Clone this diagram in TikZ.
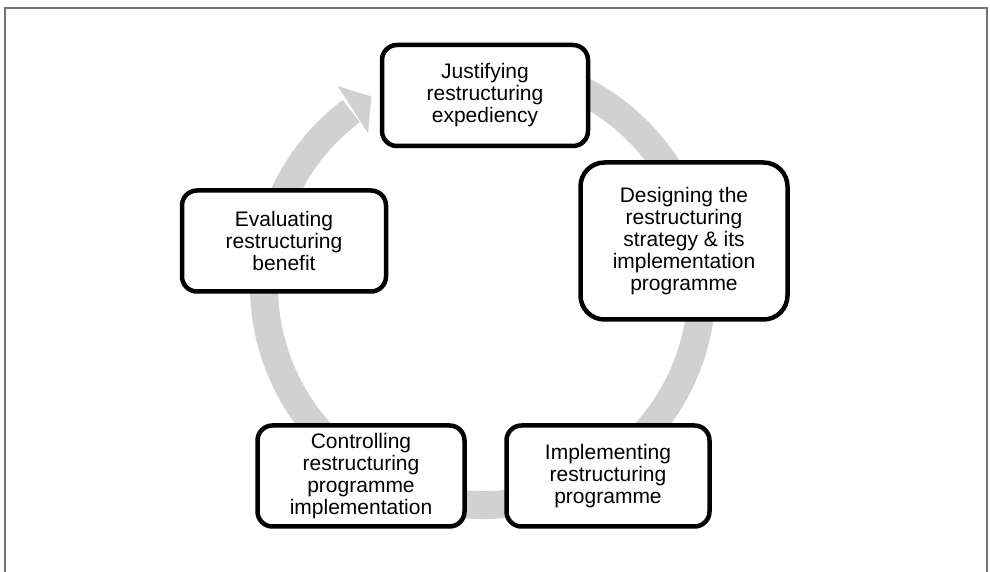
\documentclass[tikz,border=0pt]{standalone}
\usepackage{fontspec}
\setmainfont{Liberation Sans}
\usetikzlibrary{calc}
\newcommand\boxLineWidth{4.5pt}
\newcommand\boxColor{black}
\newcommand\ringColor{black!18}
\newcommand\ringRadius{219}
\newcommand\ringWidth{28pt}
\newcommand\frameColor{black!55}
\newcommand\frameLineWidth{1.5pt}

\tikzset{
    phaseBox/.style={draw=\boxColor, line width=\boxLineWidth, fill=white, shape=rectangle,
        rounded corners=15pt, align=center, inner sep=0pt, anchor=center,
        font=\fontsize{21}{22}\selectfont},
}

\begin{document}
\begin{tikzpicture}[x=1pt, y=1pt]

    \useasboundingbox (0,0) rectangle (990,572);
    % outer frame, open at the bottom
    \draw [draw=\frameColor, line width=\frameLineWidth] (5,-5) -- (5,564) -- (987,564) -- (987,-5);

    % the grey cycle arrow behind the boxes
    \coordinate (Cycle_Center) at (483,286);
    \draw [draw=\ringColor, line width=\ringWidth] (Cycle_Center) ++(75:\ringRadius) arc [start angle=75, end angle=-233, radius=\ringRadius];
    \fill [\ringColor] ($(Cycle_Center)+(127:191)$) -- ($(Cycle_Center)+(126:247)$) -- ($(Cycle_Center)+(120.5:220)$) -- cycle;

    % the five phases
    \node [phaseBox, minimum width=206pt, minimum height=101pt] (Cycle_Box_Justify) at (485,476.5) {Justifying\\restructuring\\expediency};
    \node [phaseBox, minimum width=207pt, minimum height=157pt, rounded corners=24pt] (Cycle_Box_Design) at (684,331) {Designing the\\restructuring\\strategy \& its\\implementation\\programme};
    \node [phaseBox, minimum width=203pt, minimum height=101pt] (Cycle_Box_Implement) at (608,96) {Implementing\\restructuring\\programme};
    \node [phaseBox, minimum width=207pt, minimum height=101pt] (Cycle_Box_Control) at (361,96) {Controlling\\restructuring\\programme\\implementation};
    \node [phaseBox, minimum width=204pt, minimum height=101pt] (Cycle_Box_Evaluate) at (284,331) {Evaluating\\restructuring\\benefit};

\end{tikzpicture}
\end{document}
